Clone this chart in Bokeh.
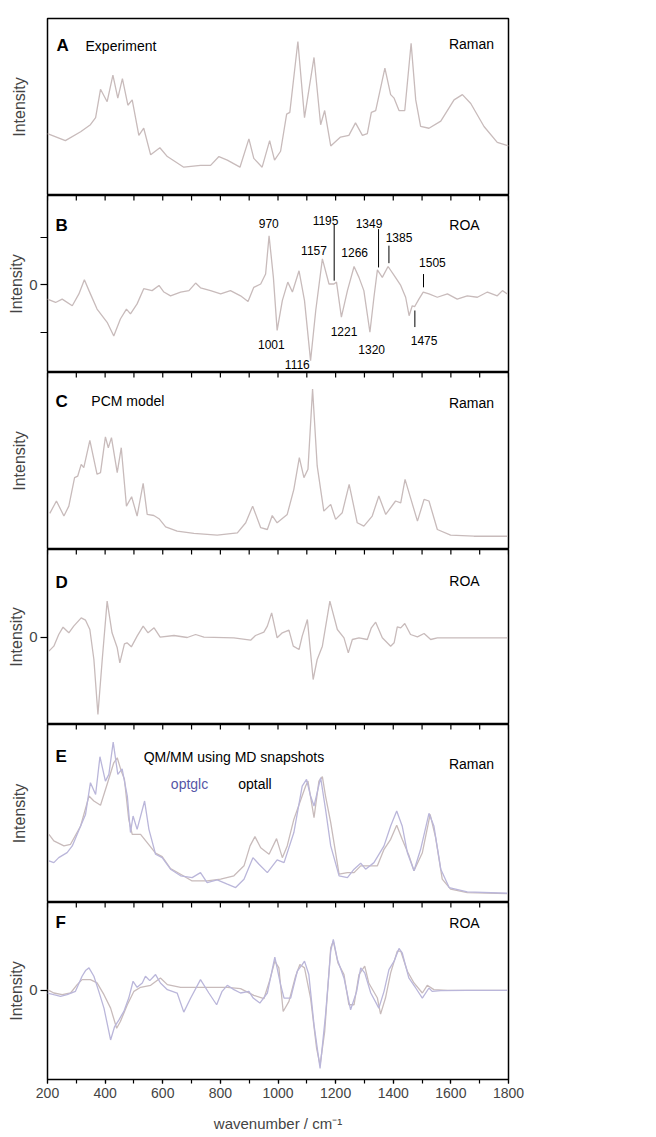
from bokeh.plotting import figure
from bokeh.models import FixedTicker, SingleIntervalTicker, LinearAxis, Range1d, Label
from bokeh.layouts import column
from bokeh.embed import file_html
from bokeh.resources import INLINE

# ---------------- data ----------------
wn_A = [200, 262, 315, 349, 367, 384, 407, 427, 444, 460, 479, 494, 517, 534, 558, 590, 616, 673, 731, 766,
        795, 824, 868, 899, 916, 945, 971, 988, 1009, 1030, 1041, 1069, 1092, 1125, 1148, 1162, 1183, 1217,
        1246, 1269, 1293, 1310, 1324, 1339, 1371, 1391, 1403, 1420, 1440, 1462, 1478, 1495, 1524, 1565,
        1611, 1640, 1669, 1715, 1761, 1800]
int_A = [35, 31, 36, 40, 44, 60, 53, 68, 55, 66, 51, 54, 34, 38, 23, 27, 22, 16, 17, 17,
         22, 20, 16, 32, 21, 16, 31, 20, 25, 46, 47, 87, 44, 78, 40, 48, 28, 33,
         34, 41, 34, 35, 47, 48, 72, 57, 55, 48, 48, 86, 54, 39, 38, 42,
         54, 57, 52, 39, 30, 28]

wn_B = [200, 228, 251, 286, 309, 328, 344, 372, 407, 430, 453, 474, 488, 511, 534, 563, 587, 604, 627, 662,
        691, 714, 731, 766, 801, 835, 870, 896, 916, 940, 957, 969, 984, 997, 1015, 1034, 1050, 1073, 1092,
        1113, 1131, 1154, 1177, 1194, 1203, 1220, 1241, 1264, 1281, 1298, 1319, 1333, 1345, 1362, 1382,
        1403, 1426, 1443, 1455, 1466, 1474, 1489, 1504, 1524, 1553, 1588, 1622, 1657, 1692, 1727, 1761,
        1779, 1796]
int_B = [-0.30, -0.37, -0.30, -0.44, -0.19, 0.11, -0.12, -0.51, -0.79, -1.08, -0.72, -0.51, -0.61, -0.40,
         -0.08, -0.12, -0.01, -0.15, -0.23, -0.15, -0.12, 0.04, -0.06, -0.12, -0.19, -0.12, -0.23, -0.35,
         -0.05, 0.02, 0.23, 1.04, 0.16, -0.96, -0.33, 0.06, -0.15, 0.30, -0.33, -1.60, -0.54, 0.55, 0.02,
         0.02, 0.06, -0.68, -0.12, 0.39, 0.16, -0.12, -1.00, -0.26, 0.32, 0.16, 0.39, 0.20, -0.01, -0.26,
         -0.65, -0.44, -0.46, -0.30, -0.15, -0.19, -0.26, -0.19, -0.30, -0.23, -0.26, -0.15, -0.23, -0.12,
         -0.19]

roa_peaks = [970, 1001, 1116, 1157, 1195, 1221, 1266, 1320, 1349, 1385, 1475, 1505]

wn_C = [208, 231, 257, 274, 294, 305, 317, 326, 347, 372, 384, 401, 411, 422, 442, 456, 474, 492, 511, 532,
        546, 569, 587, 610, 650, 708, 789, 859, 888, 912, 940, 963, 980, 997, 1032, 1055, 1074, 1090, 1104,
        1120, 1136, 1159, 1183, 1200, 1223, 1247, 1275, 1298, 1327, 1350, 1374, 1408, 1426, 1441, 1460,
        1484, 1507, 1524, 1553, 1599, 1680, 1796]
int_C = [20.4, 27.4, 18.9, 24.5, 40.6, 41.5, 48.1, 46.2, 61.7, 42.5, 43.4, 63.6, 57.5, 63.2, 43.4, 57.5,
         24.5, 29.8, 18.9, 37.4, 19.8, 19.2, 17.4, 12.8, 10.4, 9.1, 8.1, 9.4, 15.1, 24.5, 12.3, 11.3, 19.2,
         15.1, 19.8, 34.0, 51.9, 40.6, 45.3, 90.6, 47.2, 21.7, 25.5, 17.0, 20.8, 36.8, 15.1, 13.2, 18.9,
         30.2, 19.8, 27.4, 26.4, 39.6, 29.2, 16.0, 28.3, 27.4, 11.3, 8.1, 7.5, 7.5]

wn_D = [205, 222, 239, 254, 274, 291, 317, 332, 347, 361, 375, 390, 407, 424, 442, 451, 467, 476, 491, 511,
        532, 549, 570, 591, 639, 685, 714, 743, 847, 905, 922, 951, 963, 978, 997, 1015, 1038, 1053, 1073,
        1084, 1102, 1122, 1136, 1154, 1180, 1206, 1229, 1244, 1258, 1281, 1310, 1324, 1339, 1362, 1391,
        1403, 1414, 1426, 1440, 1460, 1484, 1507, 1530, 1553, 1657, 1796]
int_D = [-0.42, -0.27, 0.08, 0.30, 0.13, 0.33, 0.58, 0.51, 0.23, -0.67, -2.32, -0.67, 1.08, 0.13, -0.32,
         -0.77, -0.20, -0.17, -0.29, 0.03, 0.33, 0.13, 0.28, 0.00, 0.05, -0.01, 0.08, 0.00, -0.02, -0.09,
         0.05, 0.15, 0.33, 0.73, -0.02, 0.13, 0.21, -0.27, -0.37, 0.03, 0.53, -1.27, -0.67, -0.27, 1.08,
         0.23, -0.02, -0.47, -0.07, -0.02, -0.07, 0.28, 0.45, -0.02, -0.27, -0.17, 0.31, 0.28, 0.41, 0.08,
         0.01, 0.11, -0.07, -0.02, -0.02, -0.02]

wn_E_glc = [205, 222, 239, 268, 286, 315, 332, 349, 367, 382, 401, 413, 428, 444, 459, 477, 488, 497, 511,
            537, 552, 575, 598, 627, 662, 702, 731, 754, 789, 824, 853, 882, 913, 934, 963, 997, 1021, 1055,
            1084, 1099, 1113, 1125, 1148, 1165, 1183, 1212, 1241, 1264, 1287, 1304, 1333, 1368, 1391, 1412,
            1431, 1449, 1472, 1495, 1524, 1541, 1565, 1594, 1657, 1796]
int_E_glc = [23.4, 22.4, 25.2, 28.0, 31.8, 43.0, 49.5, 67.3, 60.7, 81.9, 68.2, 72.0, 90.1, 72.0, 75.1, 59.8,
             39.3, 48.6, 41.1, 57.0, 41.1, 27.1, 25.2, 18.7, 15.0, 14.0, 16.8, 11.2, 12.7, 10.3, 8.4, 13.1,
             25.2, 21.5, 16.8, 23.9, 22.4, 39.3, 65.4, 69.2, 59.8, 54.2, 70.1, 52.3, 31.8, 15.0, 14.0, 18.7,
             22.1, 18.7, 22.4, 31.8, 43.0, 51.4, 43.0, 28.0, 17.8, 29.9, 50.1, 43.0, 18.7, 8.4, 6.0, 5.2]

wn_E_all = [205, 222, 257, 280, 315, 344, 361, 384, 407, 430, 442, 456, 467, 482, 494, 523, 546, 575, 598,
            627, 662, 702, 754, 801, 847, 882, 903, 920, 940, 969, 995, 1015, 1032, 1055, 1096, 1104, 1125,
            1142, 1154, 1165, 1183, 1212, 1241, 1264, 1287, 1310, 1345, 1368, 1391, 1412, 1431, 1455, 1472,
            1501, 1528, 1547, 1570, 1599, 1657, 1796]
int_E_all = [38.3, 34.6, 31.8, 32.7, 43.0, 59.8, 57.0, 54.6, 66.4, 78.5, 81.3, 73.8, 69.2, 46.7, 38.3, 38.3,
             33.6, 27.7, 25.8, 19.1, 15.9, 12.1, 12.1, 13.1, 15.0, 20.6, 31.8, 37.0, 30.8, 27.1, 35.9, 25.2,
             31.8, 46.7, 65.4, 68.2, 47.7, 68.2, 70.7, 59.8, 44.9, 15.9, 16.8, 16.8, 20.6, 20.6, 20.6, 29.9,
             35.5, 43.4, 35.5, 26.2, 17.8, 28.0, 49.5, 36.4, 13.1, 7.5, 5.6, 5.0]

wn_F_glc = [200, 222, 245, 268, 297, 320, 332, 344, 361, 378, 396, 419, 433, 448, 465, 482, 497, 511, 529,
            540, 555, 575, 592, 616, 650, 673, 697, 731, 760, 787, 806, 824, 847, 870, 899, 914, 937, 963,
            989, 1009, 1021, 1044, 1067, 1084, 1092, 1107, 1125, 1146, 1165, 1183, 1192, 1206, 1229, 1252,
            1273, 1287, 1301, 1322, 1350, 1368, 1385, 1403, 1420, 1431, 1454, 1478, 1501, 1524, 1535, 1565,
            1657, 1796]
int_F_glc = [-0.08, -0.13, -0.18, -0.13, -0.03, 0.42, 0.59, 0.67, 0.42, -0.03, -0.53, -1.48, -1.08, -0.88,
             -0.63, -0.23, 0.27, 0.09, 0.22, 0.42, 0.29, 0.47, 0.22, 0.02, -0.08, -0.65, -0.23, 0.32, -0.08,
             -0.43, -0.03, 0.15, 0.02, -0.08, -0.03, -0.23, -0.38, -0.08, 0.99, 0.17, -0.23, -0.23, 0.57,
             0.77, 0.87, 0.47, -1.03, -2.33, -0.73, 1.17, 1.52, 0.92, 0.37, -0.58, -0.03, 0.67, 0.52, -0.08,
             -0.53, -0.03, 0.62, 0.87, 1.25, 1.12, 0.37, 0.07, -0.23, 0.07, -0.03, -0.01, 0.0, 0.0]

wn_F_all = [200, 222, 251, 280, 303, 320, 349, 372, 396, 419, 440, 453, 477, 500, 523, 558, 592, 616, 662,
            731, 824, 870, 916, 951, 972, 989, 1003, 1018, 1038, 1061, 1076, 1092, 1113, 1134, 1146, 1162,
            1183, 1192, 1208, 1229, 1246, 1264, 1281, 1301, 1315, 1345, 1356, 1373, 1391, 1414, 1426, 1449,
            1472, 1501, 1518, 1541, 1588, 1796]
int_F_all = [0.02, -0.08, -0.13, -0.08, 0.17, 0.32, 0.32, 0.22, -0.13, -0.53, -1.13, -0.93, -0.43, -0.03,
             0.09, 0.15, 0.37, 0.17, 0.09, 0.09, 0.09, 0.05, -0.15, -0.25, 0.32, 0.87, 0.67, -0.63, -0.33,
             0.42, 0.77, 0.67, -0.23, -1.73, -2.23, -1.23, 1.27, 1.47, 0.82, 0.47, -0.43, -0.43, 0.47, 0.72,
             0.22, -0.23, -0.71, -0.23, 0.52, 1.17, 1.17, 0.57, 0.22, -0.08, 0.15, 0.02, 0.0, 0.0]

# ---------------- style ----------------
FONT = "Liberation Sans"
GREY = "#c8bbbb"
LAV = "#bab6da"
LW = 1.3
FW = 461
LEFT = 47
RIGHT = 32
TICK_POS = list(range(200, 1801, 100))
TICK_LEN = 5  # px, ticks hanging down from the top edge of panels B-F


def panel(h, yr, top=0, top_ticks=True, bottom_axis=False, roa=False, ticks0=None):
    p = figure(frame_width=FW, frame_height=h, x_range=Range1d(200, 1800), y_range=Range1d(*yr),
               output_backend="svg", toolbar_location=None, x_axis_location=None, y_axis_location=None,
               min_border_left=LEFT, min_border_right=RIGHT, min_border_top=top, min_border_bottom=0,
               background_fill_color="white", border_fill_color="white",
               outline_line_color="black", outline_line_width=1.5)
    p.grid.visible = False
    if top_ticks:
        # inward tick marks along the shared border with the panel above
        ylen = TICK_LEN * (yr[1] - yr[0]) / h
        p.segment(x0=TICK_POS, x1=TICK_POS, y0=[yr[1]] * len(TICK_POS),
                  y1=[yr[1] - ylen] * len(TICK_POS), line_color="black", line_width=1.2)
    if bottom_axis:
        bx = LinearAxis(ticker=SingleIntervalTicker(interval=200, num_minor_ticks=2),
                        major_tick_in=0, major_tick_out=4, minor_tick_in=0, minor_tick_out=4,
                        major_label_text_font=FONT, major_label_text_font_size="14px",
                        major_label_standoff=4, axis_line_color=None,
                        axis_label="wavenumber / cm\u207b\u00b9", axis_label_text_font=FONT,
                        axis_label_text_font_size="15px", axis_label_text_font_style="normal",
                        axis_label_standoff=14, major_tick_line_width=1.2, minor_tick_line_width=1.2)
        p.add_layout(bx, "below")
    if roa:
        tk = ticks0 if ticks0 is not None else [0]
        overrides = {t: ("0" if t == 0 else "") for t in tk}
        yax = LinearAxis(ticker=FixedTicker(ticks=[0], minor_ticks=[t for t in tk if t != 0]),
                         major_label_overrides=overrides,
                         major_tick_out=7, major_tick_in=0, minor_tick_out=7, minor_tick_in=0,
                         major_label_standoff=3,
                         major_label_text_font=FONT, major_label_text_font_size="15px",
                         axis_label="Intensity", axis_label_text_font=FONT,
                         axis_label_text_font_size="16px", axis_label_text_font_style="normal",
                         axis_label_standoff=1, axis_line_color=None, minor_tick_line_color="black",
                         major_tick_line_width=1.2, minor_tick_line_width=1.2)
    else:
        yax = LinearAxis(ticker=FixedTicker(ticks=[]), major_tick_out=0, major_tick_in=0,
                         major_label_standoff=0,
                         axis_label="Intensity", axis_label_text_font=FONT,
                         axis_label_text_font_size="16px", axis_label_text_font_style="normal",
                         axis_label_standoff=20, axis_line_color=None, minor_tick_line_color=None)
    p.add_layout(yax, "left")
    return p


def lab(p, x, y, text, size="14px", bold=False, align="left", color="black"):
    p.add_layout(Label(x=x, y=y, text=text, text_font=FONT, text_font_size=size,
                       text_font_style="bold" if bold else "normal", text_align=align,
                       text_baseline="middle", text_color=color))


# A
pA = panel(177, (0, 100), top=18, top_ticks=False)
pA.line(wn_A, int_A, line_color=GREY, line_width=LW)
lab(pA, 231, 84.6, "A", "17px", True)
lab(pA, 332, 84.6, "Experiment")
lab(pA, 1750, 85.5, "Raman", align="right")

# B
pB = panel(177, (-1.85, 1.89), roa=True, ticks0=[-1, 0, 1])
pB.line(wn_B, int_B, line_color=GREY, line_width=LW)
lab(pB, 228, 1.25, "B", "17px", True)
lab(pB, 1700, 1.27, "ROA", align="right")
# label placement for each ROA peak: (text x, text y, leader line y0/y1 or None)
b_place = {970: (968, 1.29, None), 1001: (977, -1.25, None), 1116: (1067, -1.68, None),
           1157: (1125, 0.73, None), 1195: (1165, 1.37, (1.27, 0.09)), 1221: (1229, -0.99, None),
           1266: (1266, 0.69, None), 1320: (1325, -1.37, None), 1349: (1316, 1.29, (1.18, 0.37)),
           1385: (1420, 1.00, (0.83, 0.46)), 1475: (1507, -1.18, (-0.54, -0.89)),
           1505: (1536, 0.48, (0.23, -0.05))}
for pk in roa_peaks:
    tx, ty, ln = b_place[pk]
    lab(pB, tx, ty, str(pk), "12px", align="center")
    if ln is not None:
        pB.segment(x0=[pk], y0=[ln[0]], x1=[pk], y1=[ln[1]], line_color="black", line_width=1)

# C
pC = panel(177, (0, 100))
pC.line(wn_C, int_C, line_color=GREY, line_width=LW)
lab(pC, 228, 83.6, "C", "17px", True)
lab(pC, 352, 84.0, "PCM model")
lab(pC, 1750, 82.5, "Raman", align="right")

# D
pD = panel(175, (-2.62, 2.63), roa=True)
pD.line(wn_D, int_D, line_color=GREY, line_width=LW)
lab(pD, 228, 1.63, "D", "17px", True)
lab(pD, 1700, 1.68, "ROA", align="right")

# E
pE = panel(178, (0, 100))
pE.line(wn_E_all, int_E_all, line_color=GREY, line_width=LW)
pE.line(wn_E_glc, int_E_glc, line_color=LAV, line_width=LW)
lab(pE, 228, 82.2, "E", "17px", True)
lab(pE, 847, 81.7, "QM/MM using MD snapshots", align="center")
lab(pE, 693, 66.7, "optglc", align="center", color="#5656a6")
lab(pE, 920, 66.7, "optall", align="center")
lab(pE, 1750, 77.6, "Raman", align="right")

# F
pF = panel(177, (-2.66, 2.62), roa=True, bottom_axis=True)
pF.line(wn_F_all, int_F_all, line_color=GREY, line_width=LW)
pF.line(wn_F_glc, int_F_glc, line_color=LAV, line_width=LW)
lab(pF, 228, 2.02, "F", "17px", True)
lab(pF, 1700, 2.0, "ROA", align="right")

layout = column(pA, pB, pC, pD, pE, pF, spacing=0)
open("out.html", "w").write(file_html(layout, INLINE))
